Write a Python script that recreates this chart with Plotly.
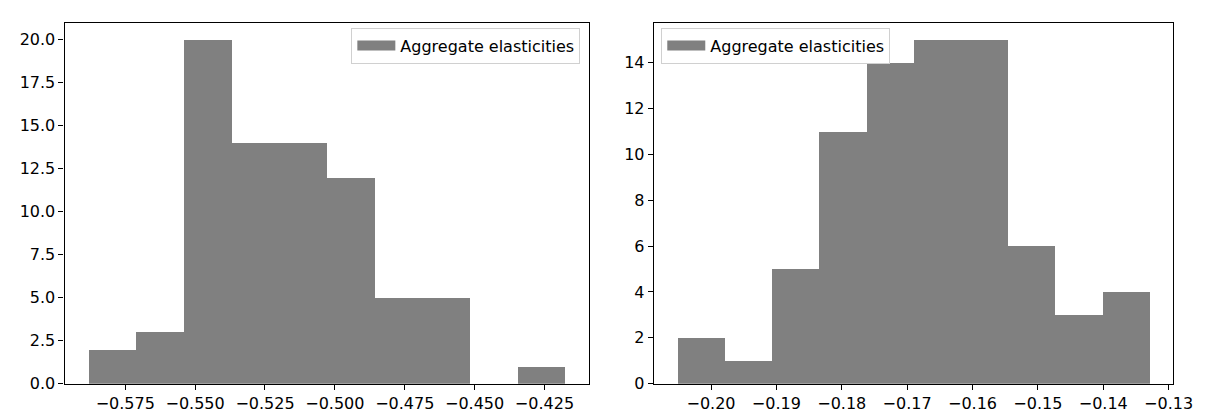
import plotly.graph_objects as go

# ---- data ----
left_edges = [-0.5882, -0.57115, -0.5541, -0.53705, -0.52, -0.50295,
              -0.4859, -0.46885, -0.4518, -0.43475, -0.4177]
left_counts = [2, 3, 20, 14, 14, 12, 5, 5, 0, 1]
left_xticks = [-0.575, -0.550, -0.525, -0.500, -0.475, -0.450, -0.425]
left_yticks = [0, 2.5, 5, 7.5, 10, 12.5, 15, 17.5, 20]

right_edges = [-0.20514, -0.197915, -0.19069, -0.183465, -0.17624, -0.169015,
               -0.16179, -0.154565, -0.14734, -0.140115, -0.13289]
right_counts = [2, 1, 5, 11, 14, 15, 15, 6, 3, 4]
right_xticks = [-0.20, -0.19, -0.18, -0.17, -0.16, -0.15, -0.14, -0.13]
right_yticks = [0, 2, 4, 6, 8, 10, 12, 14]

label = "Aggregate elasticities"
GRAY = "#808080"
FONT = "DejaVu Sans"
FS = 16


def centers(edges):
    return [(a + b) / 2 for a, b in zip(edges[:-1], edges[1:])]


def widths(edges):
    return [b - a for a, b in zip(edges[:-1], edges[1:])]


fig = go.Figure()

fig.add_trace(go.Bar(x=centers(left_edges), y=left_counts, width=widths(left_edges),
                     marker=dict(color=GRAY, line=dict(width=0)),
                     xaxis="x", yaxis="y", showlegend=False, name=label))
fig.add_trace(go.Scatter(x=[None], y=[None], mode="lines", name=label,
                         line=dict(color=GRAY, width=11),
                         xaxis="x", yaxis="y", legend="legend"))

fig.add_trace(go.Bar(x=centers(right_edges), y=right_counts, width=widths(right_edges),
                     marker=dict(color=GRAY, line=dict(width=0)),
                     xaxis="x2", yaxis="y2", showlegend=False, name=label))
fig.add_trace(go.Scatter(x=[None], y=[None], mode="lines", name=label,
                         line=dict(color=GRAY, width=11),
                         xaxis="x2", yaxis="y2", legend="legend2"))


def lpad(edges):
    span = edges[-1] - edges[0]
    return [edges[0] - 0.05 * span, edges[-1] + 0.05 * span]


axis_common = dict(showline=True, linecolor="black", linewidth=1.1, mirror=True,
                   ticks="outside", ticklen=5, tickwidth=1.1, tickcolor="black",
                   showgrid=False, zeroline=False,
                   tickfont=dict(family=FONT, size=FS, color="black"))

ydom = [1 - 385 / 412, 1 - 15 / 412]
leg_common = dict(yanchor="top", y=1 - 20 / 412, itemwidth=38,
                  bgcolor="rgba(255,255,255,0.8)", bordercolor="#d0d0d0", borderwidth=1,
                  font=dict(family=FONT, size=FS, color="black"))

fig.update_layout(
    width=1205, height=412,
    margin=dict(l=0, r=0, t=0, b=0),
    paper_bgcolor="white", plot_bgcolor="white",
    bargap=0,
    font=dict(family=FONT, size=FS, color="black"),
    xaxis=dict(domain=[57.5 / 1205, 590.5 / 1205], range=lpad(left_edges),
               tickmode="array", tickvals=left_xticks,
               ticktext=[f"{v:.3f}".replace("-", "\u2212") for v in left_xticks],
               anchor="y", **axis_common),
    yaxis=dict(domain=ydom, range=[0, max(left_counts) * 1.05],
               tickmode="array", tickvals=left_yticks,
               ticktext=[f"{v:.1f}" for v in left_yticks],
               anchor="x", **axis_common),
    xaxis2=dict(domain=[656.7 / 1205, 1185 / 1205], range=lpad(right_edges),
                tickmode="array", tickvals=right_xticks,
                ticktext=[f"{v:.2f}".replace("-", "\u2212") for v in right_xticks],
                anchor="y2", **axis_common),
    yaxis2=dict(domain=ydom, range=[0, max(right_counts) * 1.05],
                tickmode="array", tickvals=right_yticks,
                ticktext=[str(v) for v in right_yticks],
                anchor="x2", **axis_common),
    legend=dict(x=582 / 1205, xanchor="right", **leg_common),
    legend2=dict(x=664.3 / 1205, xanchor="left", **leg_common),
)

fig.write_html("out.html")
